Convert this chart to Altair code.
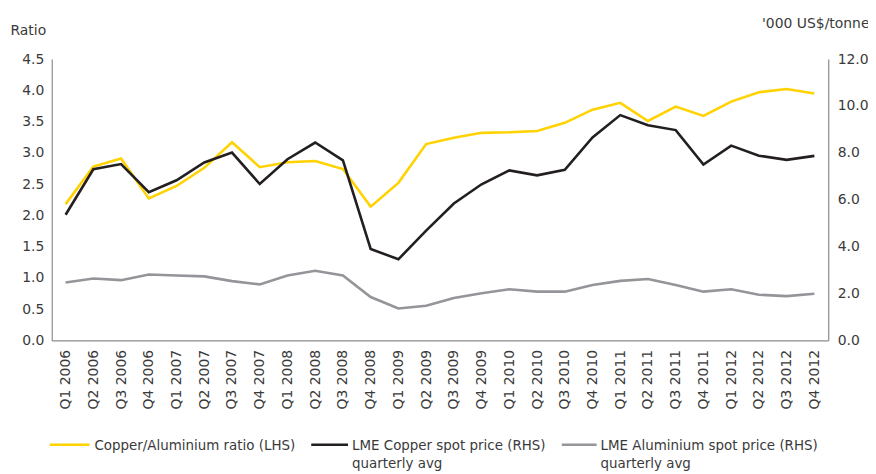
import altair as alt
import pandas as pd

quarters = ["Q1 2006", "Q2 2006", "Q3 2006", "Q4 2006",
            "Q1 2007", "Q2 2007", "Q3 2007", "Q4 2007",
            "Q1 2008", "Q2 2008", "Q3 2008", "Q4 2008",
            "Q1 2009", "Q2 2009", "Q3 2009", "Q4 2009",
            "Q1 2010", "Q2 2010", "Q3 2010", "Q4 2010",
            "Q1 2011", "Q2 2011", "Q3 2011", "Q4 2011",
            "Q1 2012", "Q2 2012", "Q3 2012", "Q4 2012"]

ratio = [2.18, 2.78, 2.91, 2.27, 2.47, 2.76, 3.17, 2.77,
         2.85, 2.87, 2.74, 2.14, 2.52, 3.14, 3.24, 3.32,
         3.33, 3.35, 3.48, 3.69, 3.80, 3.51, 3.74, 3.59,
         3.82, 3.97, 4.02, 3.95]

copper = [5.36, 7.30, 7.52, 6.32, 6.83, 7.59, 8.01, 6.67,
          7.73, 8.44, 7.68, 3.90, 3.46, 4.68, 5.84, 6.66,
          7.25, 7.04, 7.28, 8.66, 9.61, 9.18, 8.97, 7.50,
          8.31, 7.88, 7.70, 7.87]

aluminium = [2.47, 2.64, 2.57, 2.81, 2.77, 2.73, 2.53, 2.39,
             2.77, 2.97, 2.77, 1.85, 1.36, 1.48, 1.81, 2.01,
             2.18, 2.08, 2.08, 2.36, 2.54, 2.62, 2.36, 2.08,
             2.18, 1.95, 1.89, 1.99]

series_names = ["Copper/Aluminium ratio (LHS)",
                "LME Copper spot price (RHS)\nquarterly avg",
                "LME Aluminium spot price (RHS)\nquarterly avg"]
colors = ["#FFD200", "#231F20", "#939598"]

left_ticks = [0, 0.5, 1.0, 1.5, 2.0, 2.5, 3.0, 3.5, 4.0, 4.5]
right_ticks = [0, 2, 4, 6, 8, 10, 12]

FONT = "DejaVu Sans"
TXT = "#3A3A3A"
AXC = "#8C8C8C"

df_ratio = pd.DataFrame({"quarter": quarters, "value": ratio})
df_rhs = pd.DataFrame({
    "quarter": quarters + quarters,
    "value": copper + aluminium,
    "series": [series_names[1]] * len(quarters) + [series_names[2]] * len(quarters),
})

xenc = alt.X("quarter:N", sort=quarters, title=None,
             axis=alt.Axis(labelAngle=-90, labelPadding=9, labelFontSize=14))

left = alt.Chart(df_ratio).mark_line(color=colors[0], strokeWidth=2.6).encode(
    x=xenc,
    y=alt.Y("value:Q", scale=alt.Scale(domain=[0, 4.5], nice=False),
            axis=alt.Axis(orient="left", values=left_ticks, format=".1f",
                          title="Ratio", titleAngle=0, titleX=-42, titleY=-29,
                          titleAlign="left", titleBaseline="middle",
                          labelPadding=8, labelFontSize=14)),
)

right = alt.Chart(df_rhs).mark_line(strokeWidth=2.6).encode(
    x=xenc,
    y=alt.Y("value:Q", scale=alt.Scale(domain=[0, 12], nice=False),
            axis=alt.Axis(orient="right", values=right_ticks, format=".1f",
                          title="'000 US$/tonne", titleAngle=0, titleX=41, titleY=-36,
                          titleAlign="right", titleBaseline="middle",
                          labelPadding=9, labelFontSize=14)),
    color=alt.Color("series:N", scale=alt.Scale(domain=series_names[1:], range=colors[1:]),
                    legend=None),
)

# manual legend (positions relative to plot origin)
leg_x = [(-2, 38, 43), (261, 298, 302), (513, 548, 552)]
legend_layers = []
for i, name in enumerate(series_names):
    x0, x1, xt = leg_x[i]
    d = pd.DataFrame({"name": [name]})
    legend_layers.append(
        alt.Chart(d).mark_rule(color=colors[i], strokeWidth=2.6).encode(
            x=alt.value(x0), x2=alt.value(x1), y=alt.value(388))
    )
    legend_layers.append(
        alt.Chart(d).mark_text(align="left", baseline="alphabetic", lineBreak="\n",
                               lineHeight=18, fontSize=13.5, font=FONT, color=TXT).encode(
            x=alt.value(xt), y=alt.value(393), text="name:N")
    )

chart = alt.layer(left, right, *legend_layers).resolve_scale(y="independent").properties(
    width=781, height=283,
    padding={"left": 44, "top": 50, "right": 40, "bottom": 133},
    autosize=alt.AutoSizeParams(type="none"),
).configure_view(stroke=None).configure_axis(
    grid=False, ticks=False, domainColor=AXC, domainWidth=1.2,
    labelFont=FONT, titleFont=FONT, labelColor=TXT, titleColor=TXT,
    titleFontSize=14, titleFontWeight="normal",
)

chart.save("out.html", embed_options={"renderer": "svg", "actions": False})
